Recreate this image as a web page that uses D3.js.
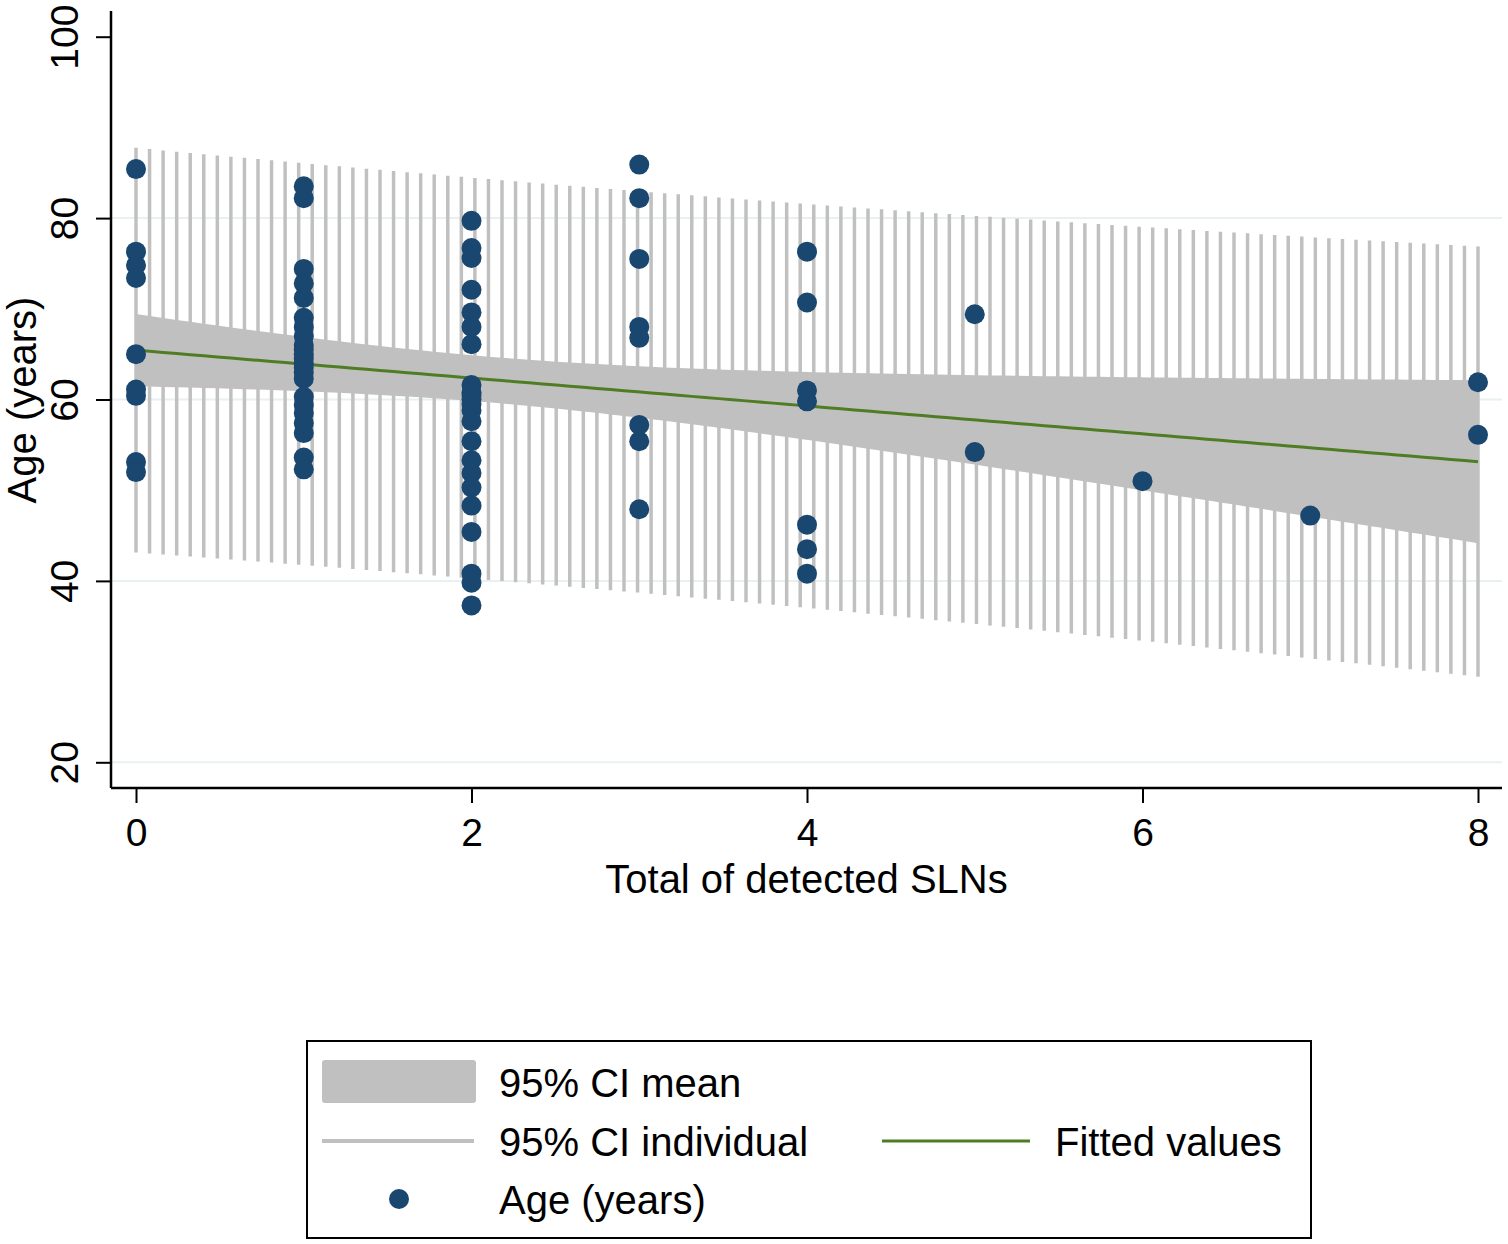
<!DOCTYPE html>
<html>
<head>
<meta charset="utf-8">
<script src="https://cdn.jsdelivr.net/npm/d3@7"></script>
<style>
  body { margin: 0; background: #fff; }
  svg { display: block; font-family: "Liberation Sans", Arial, Helvetica, sans-serif; }
</style>
</head>
<body>
<svg id="chart"></svg>
<script>
// ages, one array per number of detected SLNs
const ages0 = [85.4, 76.3, 74.8, 73.4, 65.0, 61.1, 60.4, 53.1, 52.0]
const ages1 = [83.5, 82.2, 74.4, 72.8, 71.2, 69.0, 68.0, 67.0, 66.0, 65.5, 65.0,
  64.5, 64.0, 63.5, 63.0, 62.3, 60.3, 59.4, 58.5, 57.4, 56.3, 53.6, 52.3]
const ages2 = [79.7, 76.7, 75.6, 72.1, 69.6, 68.0, 66.1, 61.6, 60.8, 60.5, 60.0,
  59.5, 58.8, 57.6, 55.4, 53.3, 51.9, 50.3, 48.3, 45.4, 40.8, 39.8, 37.3]
const ages3 = [85.9, 82.2, 75.5, 68.0, 66.8, 57.2, 55.4, 47.9]
const ages4 = [76.3, 70.7, 61.0, 59.8, 46.2, 43.5, 40.8]
const ages5 = [69.4, 54.2]
const ages6 = [51.0]
const ages7 = [47.2]
const ages8 = [61.9, 56.1]

const slnCounts = [0, 1, 2, 3, 4, 5, 6, 7, 8]
const agesBySln = [ages0, ages1, ages2, ages3, ages4, ages5, ages6, ages7, ages8]

const xTicks = [0, 2, 4, 6, 8]
const yTicks = [20, 40, 60, 80, 100]
const yGrid = [20, 40, 60, 80]

const legendItems = ['95% CI mean', '95% CI individual', 'Fitted values', 'Age (years)']

const W = 1508, H = 1244
const plot = { left: 111, right: 1502, top: 11, bottom: 788 }
const fontSize = 39

const svg = d3.select('#chart').attr('width', W).attr('height', H)
svg.append('rect').attr('width', W).attr('height', H).attr('fill', '#fff')

let x = d3.scaleLinear().domain([0, 8]).range([136, 1478])
let y = d3.scaleLinear().domain([20, 100]).range([762.3, 36.7])

// points
let pts = []
slnCounts.forEach((c, i) => agesBySln[i].forEach(a => pts.push([c, a])))

// linear fit with 95% CIs, as lfitci does it (evaluated at 100 points)
let n = pts.length
let mx = d3.mean(pts, d => d[0]), my = d3.mean(pts, d => d[1])
let sxx = d3.sum(pts, d => (d[0] - mx) ** 2)
let sxy = d3.sum(pts, d => (d[0] - mx) * (d[1] - my))
let slope = sxy / sxx, icpt = my - slope * mx
let s = Math.sqrt(d3.sum(pts, d => (d[1] - icpt - slope * d[0]) ** 2) / (n - 2))
let tCrit = 1.993 // t(0.975, ~74 df)

let xmin = d3.min(pts, d => d[0]), xmax = d3.max(pts, d => d[0])
let grid = d3.range(100).map(i => xmin + (xmax - xmin) * i / 99)
let fit = grid.map(g => {
  let f = icpt + slope * g
  let seM = s * Math.sqrt(1 / n + (g - mx) ** 2 / sxx)
  let seI = s * Math.sqrt(1 + 1 / n + (g - mx) ** 2 / sxx)
  return { x: g, f: f, mLo: f - tCrit * seM, mHi: f + tCrit * seM, iLo: f - tCrit * seI, iHi: f + tCrit * seI }
})

// grid lines
svg.append('g').selectAll('line')
  .data(yGrid).enter().append('line')
  .attr('x1', plot.left).attr('x2', plot.right)
  .attr('y1', d => y(d)).attr('y2', d => y(d))
  .attr('stroke', '#e8f0f2').attr('stroke-width', 2)

// individual CI spikes
svg.append('g').selectAll('line')
  .data(fit).enter().append('line')
  .attr('x1', d => x(d.x)).attr('x2', d => x(d.x))
  .attr('y1', d => y(d.iLo)).attr('y2', d => y(d.iHi))
  .attr('stroke', '#c0c0c0').attr('stroke-width', 3.5)

// mean CI band
svg.append('path').datum(fit)
  .attr('d', d3.area().x(d => x(d.x)).y0(d => y(d.mLo)).y1(d => y(d.mHi)))
  .attr('fill', '#c0c0c0')

// fitted line
svg.append('path').datum(fit)
  .attr('d', d3.line().x(d => x(d.x)).y(d => y(d.f)))
  .attr('fill', 'none').attr('stroke', '#4f7d23').attr('stroke-width', 3)

// dots
svg.append('g').selectAll('circle')
  .data(pts).enter().append('circle')
  .attr('cx', d => x(d[0])).attr('cy', d => y(d[1]))
  .attr('r', 10).attr('fill', '#1a476f')

// axes
let gx = svg.append('g').attr('transform', `translate(0, ${plot.bottom})`)
  .call(d3.axisBottom(x).tickValues(xTicks).tickSize(15).tickPadding(15).tickFormat(d3.format('d')))
gx.select('.domain').remove()
gx.selectAll('line').attr('stroke', '#000').attr('stroke-width', 2)
gx.selectAll('text').attr('font-size', fontSize).attr('fill', '#000').attr('font-family', null)
gx.append('line').attr('x1', plot.left).attr('x2', plot.right).attr('stroke', '#000').attr('stroke-width', 2.5)

let gy = svg.append('g').attr('transform', `translate(${plot.left}, 0)`)
  .call(d3.axisLeft(y).tickValues(yTicks).tickSize(15).tickFormat(d3.format('d')))
gy.select('.domain').remove()
gy.selectAll('line').attr('stroke', '#000').attr('stroke-width', 2)
gy.selectAll('text')
  .attr('font-size', fontSize).attr('fill', '#000').attr('font-family', null)
  .attr('transform', 'rotate(-90)')
  .attr('x', 0).attr('y', -33).attr('dy', 0)
  .attr('text-anchor', 'middle')
gy.append('line').attr('y1', plot.top).attr('y2', plot.bottom).attr('stroke', '#000').attr('stroke-width', 2.5)

// axis titles
svg.append('text')
  .attr('x', (plot.left + plot.right) / 2).attr('y', 893)
  .attr('text-anchor', 'middle').attr('font-size', 40)
  .text('Total of detected SLNs')

svg.append('text')
  .attr('transform', `translate(36, 400) rotate(-90)`)
  .attr('text-anchor', 'middle').attr('font-size', 40)
  .text('Age (years)')

// legend
let lg = svg.append('g')
lg.append('rect').attr('x', 307).attr('y', 1041).attr('width', 1004).attr('height', 197)
  .attr('fill', '#fff').attr('stroke', '#000').attr('stroke-width', 2)
lg.append('rect').attr('x', 322).attr('y', 1060).attr('width', 154).attr('height', 43)
  .attr('rx', 3).attr('fill', '#c0c0c0')
lg.append('line').attr('x1', 322).attr('x2', 474).attr('y1', 1141).attr('y2', 1141)
  .attr('stroke', '#c0c0c0').attr('stroke-width', 4)
lg.append('line').attr('x1', 882).attr('x2', 1030).attr('y1', 1141).attr('y2', 1141)
  .attr('stroke', '#4f7d23').attr('stroke-width', 3)
lg.append('circle').attr('cx', 399).attr('cy', 1199).attr('r', 10).attr('fill', '#1a476f')

let legendPos = [[499, 1097], [499, 1156], [1055, 1156], [499, 1214]]
lg.selectAll('text.leg')
  .data(legendItems).enter().append('text')
  .attr('class', 'leg')
  .attr('x', (d, i) => legendPos[i][0]).attr('y', (d, i) => legendPos[i][1])
  .attr('font-size', 40)
  .text(d => d)
</script>
</body>
</html>
